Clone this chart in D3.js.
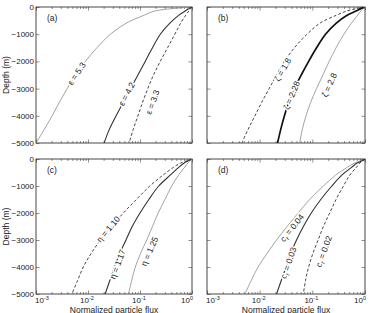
<!DOCTYPE html>
<html>
<head>
<script src="https://cdn.jsdelivr.net/npm/d3@7"></script>
<style>
  body { margin: 0; background: #fff; }
  text { font-family: "Liberation Sans", Arial, sans-serif; }
</style>
</head>
<body>
<svg id="viz"></svg>
<script>
// depth sample points (m) shared by every curve
var depths = [0, -50, -150, -300, -600, -1000, -1500, -2000, -2500, -3000, -3500, -4000, -4500, -5000];

// log10 of normalized flux at the depths above
var eps53 = [0, -0.33, -0.72, -0.92, -1.27, -1.57, -1.83, -2.05, -2.24, -2.4, -2.55, -2.69, -2.84, -3.0];
var eps42 = [0, -0.05, -0.13, -0.25, -0.43, -0.61, -0.76, -0.9, -1.04, -1.18, -1.32, -1.46, -1.59, -1.69];
var eps33 = [0, -0.02, -0.06, -0.12, -0.22, -0.33, -0.47, -0.61, -0.74, -0.85, -0.95, -1.04, -1.13, -1.21];

var zeta18 = [0, -0.14, -0.35, -0.54, -0.86, -1.1, -1.34, -1.53, -1.68, -1.82, -1.96, -2.09, -2.22, -2.34];
var zeta228 = [0, -0.07, -0.17, -0.34, -0.55, -0.75, -0.92, -1.07, -1.21, -1.34, -1.45, -1.53, -1.6, -1.66];
var zeta28 = [0, -0.03, -0.08, -0.14, -0.26, -0.4, -0.55, -0.68, -0.8, -0.92, -1.03, -1.12, -1.19, -1.24];

var eta110 = [0, -0.07, -0.22, -0.35, -0.56, -0.81, -1.07, -1.32, -1.55, -1.76, -1.94, -2.09, -2.2, -2.31];
var eta117 = [0, -0.05, -0.15, -0.25, -0.42, -0.64, -0.83, -1.0, -1.15, -1.27, -1.39, -1.49, -1.58, -1.67];
var eta125 = [0, -0.03, -0.08, -0.14, -0.26, -0.39, -0.52, -0.65, -0.76, -0.87, -0.99, -1.09, -1.16, -1.22];

var cr004 = [0, -0.06, -0.2, -0.33, -0.56, -0.79, -1.05, -1.27, -1.48, -1.68, -1.86, -2.03, -2.16, -2.28];
var cr003 = [0, -0.04, -0.15, -0.25, -0.44, -0.63, -0.84, -1.02, -1.17, -1.3, -1.41, -1.5, -1.59, -1.68];
var cr002 = [0, -0.03, -0.1, -0.16, -0.29, -0.41, -0.55, -0.67, -0.79, -0.89, -0.99, -1.07, -1.13, -1.17];

var depthTicks = [0, -1000, -2000, -3000, -4000, -5000];
var fluxTicks = [1e-3, 1e-2, 1e-1, 1];
var fluxTickExp = ["-3", "-2", "-1", "0"];

var width = 370, height = 313;
var ink = "#222";
var svg = d3.select("#viz").attr("width", width).attr("height", height);

var styles = {
  light: { stroke: "#8c8c8c", width: 0.8, dash: null },
  dark: { stroke: "#333", width: 1.1, dash: null },
  thick: { stroke: "#111", width: 1.7, dash: null },
  dashed: { stroke: "#333", width: 0.9, dash: "3,2" }
};

// "at" = depth where the label sits, "dx" = sideways nudge in px
var panels = [
  { tag: "(a)", x0: 36, x1: 192, y0: 7, y1: 143, yLabels: true, xLabels: false,
    curves: [
      { vals: eps53, style: "light", sym: "ε", sub: null, val: "5.3", at: -2450, dx: 0 },
      { vals: eps42, style: "dark", sym: "ε", sub: null, val: "4.2", at: -3200, dx: -1 },
      { vals: eps33, style: "dashed", sym: "ε", sub: null, val: "3.3", at: -3500, dx: 10 }
    ] },
  { tag: "(b)", x0: 207, x1: 365, y0: 7, y1: 143, yLabels: false, xLabels: false,
    curves: [
      { vals: zeta18, style: "dashed", sym: "ζ", sub: null, val: "1.8", at: -2300, dx: 3 },
      { vals: zeta228, style: "thick", sym: "ζ", sub: null, val: "2.28", at: -3250, dx: 0 },
      { vals: zeta28, style: "light", sym: "ζ", sub: null, val: "2.8", at: -2870, dx: 11 }
    ] },
  { tag: "(c)", x0: 36, x1: 192, y0: 159, y1: 294, yLabels: true, xLabels: true,
    curves: [
      { vals: eta110, style: "dashed", sym: "η", sub: null, val: "1.10", at: -2600, dx: -1 },
      { vals: eta117, style: "dark", sym: "η", sub: null, val: "1.17", at: -3900, dx: 2 },
      { vals: eta125, style: "light", sym: "η", sub: null, val: "1.25", at: -3420, dx: 8 }
    ] },
  { tag: "(d)", x0: 207, x1: 365, y0: 159, y1: 294, yLabels: false, xLabels: true,
    curves: [
      { vals: cr004, style: "light", sym: "c", sub: "r", val: "0.04", at: -2550, dx: 6 },
      { vals: cr003, style: "dark", sym: "c", sub: "r", val: "0.03", at: -3850, dx: 1 },
      { vals: cr002, style: "dashed", sym: "c", sub: "r", val: "0.02", at: -3420, dx: 10 }
    ] }
];

var defs = svg.append("defs");

panels.forEach(function(p, pi) {
  var x = d3.scaleLog().domain([1e-3, 1]).range([p.x0, p.x1]);
  var y = d3.scaleLinear().domain([0, -5000]).range([p.y0, p.y1]);
  var g = svg.append("g");

  defs.append("clipPath").attr("id", "clip" + pi)
    .append("rect").attr("x", p.x0).attr("y", p.y0)
    .attr("width", p.x1 - p.x0).attr("height", p.y1 - p.y0);

  // minor + major ticks on the log axis, inward, top and bottom
  var minor = [];
  [1e-3, 1e-2, 1e-1].forEach(function(d) {
    for (var k = 2; k <= 9; k++) minor.push(d * k);
  });
  var tickCol = "#444";
  var axB = d3.axisBottom(x).tickValues(fluxTicks).tickSizeInner(-3.5).tickSizeOuter(0).tickFormat("");
  var axT = d3.axisTop(x).tickValues(fluxTicks).tickSizeInner(-3.5).tickSizeOuter(0).tickFormat("");
  var axBm = d3.axisBottom(x).tickValues(minor).tickSizeInner(-2).tickSizeOuter(0).tickFormat("");
  var axTm = d3.axisTop(x).tickValues(minor).tickSizeInner(-2).tickSizeOuter(0).tickFormat("");
  var axL = d3.axisLeft(y).tickValues(depthTicks).tickSizeInner(-3.5).tickSizeOuter(0).tickFormat("");
  var axR = d3.axisRight(y).tickValues(depthTicks).tickSizeInner(-3.5).tickSizeOuter(0).tickFormat("");

  [[axB, p.y1], [axBm, p.y1], [axT, p.y0], [axTm, p.y0]].forEach(function(a) {
    var ag = g.append("g").attr("transform", "translate(0," + a[1] + ")").call(a[0]);
    ag.select(".domain").remove();
    ag.selectAll("line").attr("stroke", tickCol).attr("stroke-width", 0.6);
  });
  [[axL, p.x0], [axR, p.x1]].forEach(function(a) {
    var ag = g.append("g").attr("transform", "translate(" + a[1] + ",0)").call(a[0]);
    ag.select(".domain").remove();
    ag.selectAll("line").attr("stroke", tickCol).attr("stroke-width", 0.6);
  });

  g.append("rect").attr("x", p.x0).attr("y", p.y0)
    .attr("width", p.x1 - p.x0).attr("height", p.y1 - p.y0)
    .attr("fill", "none").attr("stroke", "#333").attr("stroke-width", 0.9);

  if (p.yLabels) {
    g.selectAll(".ylab").data(depthTicks).enter().append("text")
      .attr("x", p.x0 - 2).attr("y", function(d) { return y(d) + 3; })
      .attr("text-anchor", "end").attr("font-size", 8).attr("fill", ink)
      .text(function(d) { return d === 0 ? "0" : "\u2212" + Math.abs(d); });
    g.append("text")
      .attr("transform", "translate(8.5," + ((p.y0 + p.y1) / 2) + ") rotate(-90)")
      .attr("text-anchor", "middle").attr("font-size", 8.5).attr("fill", ink)
      .text("Depth (m)");
  }
  if (p.xLabels) {
    var last = fluxTicks.length - 1;
    var xl = g.selectAll(".xlab").data(fluxTicks).enter().append("text")
      .attr("x", function(d, i) { return i === 0 ? x(d) - 1 : i === last ? x(d) + 1 : x(d) - 1; })
      .attr("y", p.y1 + 9)
      .attr("text-anchor", function(d, i) { return i === 0 ? "start" : i === last ? "end" : "middle"; })
      .attr("font-size", 8).attr("fill", ink);
    xl.append("tspan").text("10");
    xl.append("tspan").attr("font-size", 5.5).attr("dy", -3.5)
      .text(function(d, i) { return fluxTickExp[i]; });
    g.append("text")
      .attr("x", (p.x0 + p.x1) / 2).attr("y", p.y1 + 19)
      .attr("text-anchor", "middle").attr("font-size", 8.5).attr("fill", ink)
      .text("Normalized particle flux");
  }

  g.append("text").attr("x", p.x0 + 11).attr("y", p.y0 + 14)
    .attr("font-size", 8.5).attr("fill", ink).text(p.tag);

  var line = d3.line()
    .x(function(d) { return x(Math.pow(10, d[1])); })
    .y(function(d) { return y(d[0]); })
    .curve(d3.curveCatmullRom.alpha(0.5));

  var cg = g.append("g").attr("clip-path", "url(#clip" + pi + ")");
  p.curves.forEach(function(c) {
    var st = styles[c.style];
    var pts = depths.map(function(d, i) { return [d, c.vals[i]]; });
    cg.append("path").datum(pts).attr("d", line)
      .attr("fill", "none").attr("stroke", st.stroke)
      .attr("stroke-width", st.width)
      .attr("stroke-dasharray", st.dash);
  });

  // inline curve labels, rotated along the curve
  p.curves.forEach(function(c) {
    var interp = d3.scaleLinear().domain(depths).range(c.vals);
    var lx = x(Math.pow(10, interp(c.at))) + c.dx, ly = y(c.at);
    var ax = x(Math.pow(10, interp(c.at - 300))), ay = y(c.at - 300);
    var bx = x(Math.pow(10, interp(c.at + 300))), by = y(c.at + 300);
    var ang = Math.atan2(by - ay, bx - ax) * 180 / Math.PI;
    var t = g.append("text")
      .attr("transform", "translate(" + lx + "," + ly + ") rotate(" + ang + ")")
      .attr("text-anchor", "middle").attr("dy", 3)
      .attr("font-size", 8.5).attr("fill", ink)
      .attr("stroke", "#fff").attr("stroke-width", 3).attr("paint-order", "stroke");
    t.append("tspan").text(c.sym);
    if (c.sub) {
      t.append("tspan").attr("font-size", 6).attr("dy", 2).text(c.sub);
      t.append("tspan").attr("dy", -2).text(" = " + c.val);
    } else {
      t.append("tspan").text(" = " + c.val);
    }
  });
});
</script>
</body>
</html>
